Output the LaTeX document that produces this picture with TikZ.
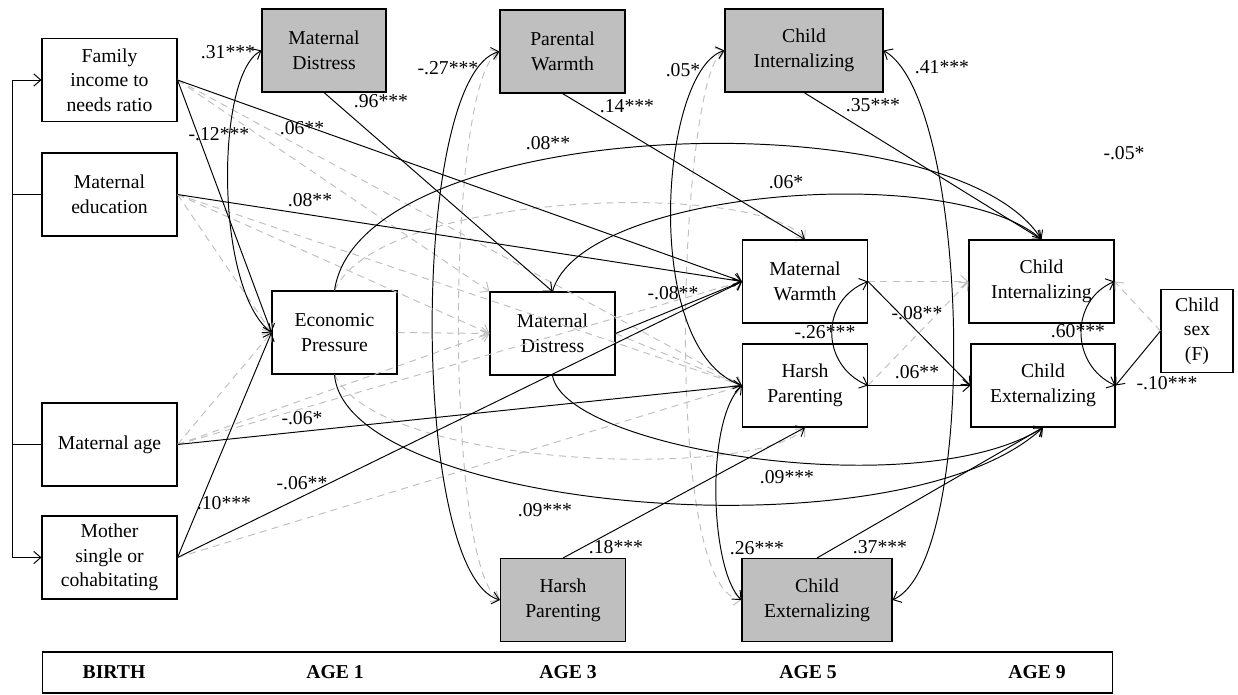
\documentclass[tikz,border=0pt]{standalone}
\usepackage{fontspec}
\setmainfont{Liberation Serif}
\usetikzlibrary{arrows.meta}

\begin{document}
\begin{tikzpicture}[x=0.02cm, y=-0.02cm,
  var/.style={rectangle, draw, line width=0.6pt, minimum width=2.5cm,
              minimum height=1.66cm, align=center, inner sep=1pt,
              font=\fontsize{11.2}{14}\selectfont},
  ctl/.style={var, fill=black!25},
  lbl/.style={inner sep=0pt, font=\fontsize{11.2}{14}\selectfont},
  arrow/.style={-{Straight Barb[length=4pt,width=7pt]}, line width=0.55pt},
  both/.style={{Straight Barb[length=4pt,width=7pt]}-{Straight Barb[length=4pt,width=7pt]},
               line width=0.55pt},
  ns/.style={arrow, draw=black!25, dash pattern=on 4pt off 3pt},
  nsboth/.style={both, draw=black!25, dash pattern=on 4pt off 3pt}
]
\useasboundingbox (0,0) rectangle (1238,694);

%% Birth
\node[var, minimum width=2.7cm] at (109.5,80)    (fam) {Family\\income to\\needs ratio};
\node[var, minimum width=2.7cm] at (109.5,194.5) (edu) {Maternal\\education};
\node[var, minimum width=2.7cm] at (109.5,444.5) (age) {Maternal age};
\node[var, minimum width=2.7cm] at (109.5,557.5) (mom) {Mother\\single or\\cohabitating};

%% Controls (grey)
\node[ctl, minimum width=2.48cm] at (324,50.5)  (md1) {Maternal\\Distress};
\node[ctl]                       at (562.5,51.5) (pw) {Parental\\Warmth};
\node[ctl, minimum width=3.16cm] at (804,50.5)  (ci5) {Child\\Internalizing};
\node[ctl]                       at (563,600)   (hp3) {Harsh\\Parenting};
\node[ctl, minimum width=3cm]    at (817,600)   (ce5) {Child\\Externalizing};

%% Mediators and outcomes
\node[var] at (334.5,332.5) (ep)  {Economic\\Pressure};
\node[var] at (552.5,333.5) (md3) {Maternal\\Distress};
\node[var] at (805,281.5)   (mw)  {Maternal\\Warmth};
\node[var] at (805,385.5)   (hp5) {Harsh\\Parenting};
\node[var, minimum width=2.9cm]  at (1041.5,281.5) (ci9) {Child\\Internalizing};
\node[var, minimum width=2.88cm] at (1043,385.5)   (ce9) {Child\\Externalizing};
\node[var, minimum width=1.44cm] at (1197,331)     (sex) {Child\\sex\\(F)};

%% Age band
\node[draw, line width=0.6pt, minimum width=21.42cm, minimum height=0.82cm]
  at (577.5,672.5) (band) {};
\node[lbl, font=\fontsize{11.2}{14}\selectfont\bfseries] at (114,672)  (birth) {BIRTH};
\node[lbl, font=\fontsize{11.2}{14}\selectfont\bfseries] at (335,672)  (age1)  {AGE 1};
\node[lbl, font=\fontsize{11.2}{14}\selectfont\bfseries] at (568,672)  (age3)  {AGE 3};
\node[lbl, font=\fontsize{11.2}{14}\selectfont\bfseries] at (808,672)  (age5)  {AGE 5};
\node[lbl, font=\fontsize{11.2}{14}\selectfont\bfseries] at (1037,672) (age9)  {AGE 9};

%% Bracket for the birth covariates
\coordinate (brk) at (12,318);
\draw[arrow] (edu.west -| brk) |- (fam.west);
\draw[arrow] (edu.west -| brk) |- (mom.west);
\draw[line width=0.55pt] (edu.west) -- (edu.west -| brk);
\draw[line width=0.55pt] (age.west) -- (age.west -| brk);

%% Non-significant paths
\draw[ns] (fam.east) -- (hp5.west);
\draw[ns] (fam.east) -- (md3.north west);
\draw[ns] (edu.east) -- (ep.west);
\draw[ns] (edu.east) -- (md3.west);
\draw[ns] (edu.east) -- (hp5.west);
\draw[ns] (age.east) -- (ep.west);
\draw[ns] (age.east) -- (md3.west);
\draw[ns] (age.east) -- (mw.west);
\draw[ns] (mom.east) -- (hp5.west);
\draw[ns] (ep.east)  -- (md3.west);
\draw[ns] (md3.east) -- (hp5.west);
\draw[ns] (mw.east)  -- (ci9.west);
\draw[ns] (hp5.east) -- (ci9.west);
\draw[ns] (sex.west) -- (ci9.east);
\draw[ns] (ep.north) .. controls (380,190) and (760,180) .. (mw.north);
\draw[ns] (ep.south) .. controls (380,470) and (760,480) .. (hp5.south);
\draw[nsboth] (pw.west) .. controls (445,80) and (445,570) .. (hp3.west);
\draw[nsboth] (ci5.west) .. controls (680,70) and (660,590) .. (ce5.west);

%% Significant paths
\draw[arrow] (fam.east) -- (ep.west);
\draw[arrow] (fam.east) -- (mw.west);
\draw[arrow] (edu.east) -- (mw.west);
\draw[arrow] (age.east) -- (hp5.west);
\draw[arrow] (mom.east) -- (ep.west);
\draw[arrow] (mom.east) -- (mw.west);
\draw[arrow] (md1.south) -- (md3.north);
\draw[arrow] (pw.south)  -- (mw.north);
\draw[arrow] (ci5.south) -- (ci9.north);
\draw[arrow] (hp3.north) -- (hp5.south);
\draw[arrow] (ce5.north) -- (ce9.south);
\draw[arrow] (md3.east)  -- (mw.west);
\draw[arrow] (mw.east)   -- (ce9.west);
\draw[arrow] (hp5.east)  -- (ce9.west);
\draw[arrow] (sex.west)  -- (ce9.east);
\draw[arrow] (ep.north)  .. controls (360,115) and (950,95)  .. (ci9.north);
\draw[arrow] (md3.north) .. controls (580,190) and (950,160) .. (ci9.north);
\draw[arrow] (ep.south)  .. controls (345,510) and (900,560) .. (ce9.south);
\draw[arrow] (md3.south) .. controls (565,450) and (920,505) .. (ce9.south);

%% Covariances
\draw[both] (md1.west) .. controls (215,75) and (215,290) .. (ep.west);
\draw[both] (pw.west)  .. controls (410,75) and (410,575) .. (hp3.west);
\draw[both] (ci5.west) .. controls (660,70) and (640,350) .. (hp5.west);
\draw[both] (ce5.west) .. controls (710,570) and (705,420) .. (hp5.west);
\draw[both] (ci5.east) .. controls (970,100) and (980,560) .. (ce5.east);
\draw[both] (mw.east)  .. controls (820,300) and (820,365) .. (hp5.east);
\draw[both] (ci9.east) .. controls (1070,300) and (1070,365) .. (ce9.east);

%% Coefficients
\node[lbl] at (228,52)   (c1)  {.31***};
\node[lbl] at (381,101)  (c2)  {.96***};
\node[lbl] at (219,134)  (c3)  {-.12***};
\node[lbl] at (302,128)  (c4)  {.06**};
\node[lbl] at (310,200)  (c5)  {.08**};
\node[lbl] at (448,68)   (c6)  {-.27***};
\node[lbl] at (627,106)  (c7)  {.14***};
\node[lbl] at (548,143)  (c8)  {.08**};
\node[lbl] at (683,70)   (c9)  {.05*};
\node[lbl] at (786,182)  (c10) {.06*};
\node[lbl] at (942,67)   (c11) {.41***};
\node[lbl] at (873,105)  (c12) {.35***};
\node[lbl] at (1124,153) (c13) {-.05*};
\node[lbl] at (673,293)  (c14) {-.08**};
\node[lbl] at (825,332)  (c15) {-.26***};
\node[lbl] at (917,313)  (c16) {-.08**};
\node[lbl] at (917,372)  (c17) {.06**};
\node[lbl] at (1078,331) (c18) {.60***};
\node[lbl] at (1167,383) (c19) {-.10***};
\node[lbl] at (302,418)  (c20) {-.06*};
\node[lbl] at (224,503)  (c21) {.10***};
\node[lbl] at (302,483)  (c22) {-.06**};
\node[lbl] at (545,510)  (c23) {.09***};
\node[lbl] at (787,477)  (c24) {.09***};
\node[lbl] at (616,547)  (c25) {.18***};
\node[lbl] at (757,548)  (c26) {.26***};
\node[lbl] at (880,547)  (c27) {.37***};
\end{tikzpicture}
\end{document}
